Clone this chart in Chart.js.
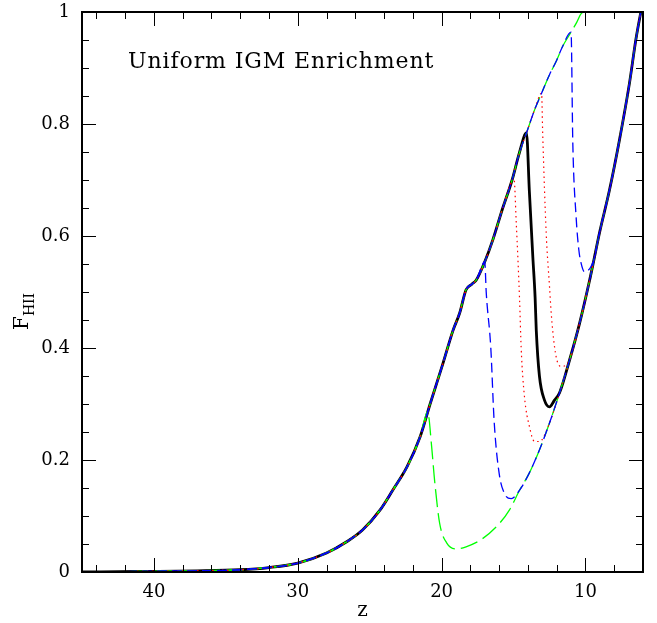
<!DOCTYPE html>
<html>
<head>
<meta charset="utf-8">
<script src="https://cdn.jsdelivr.net/npm/chart.js@4.4.0/dist/chart.umd.min.js"></script>
<style>
  html, body { margin: 0; padding: 0; background: #fff; }
  #wrap { width: 657px; height: 623px; position: relative; }
</style>
</head>
<body>
<div id="wrap"><canvas id="fhii-chart"></canvas></div>
<script>
// shared early branch (all runs follow it until enrichment kicks in)
const baseZ = [45, 41, 37, 34, 32, 30, 28, 26.6, 25.5, 24.3, 23.4, 22.4, 21.5, 20.8, 19.9, 19.2, 18.75, 18.3, 17.9, 17.6,
               17.0, 16.44, 15.8, 15.1, 14.6, 14.1, 13.54, 13.05, 12.5, 12.0, 11.6, 11.0, 10.6, 10.3, 10.0, 6.0];
const baseF = [0, 0.001, 0.002, 0.004, 0.008, 0.016, 0.034, 0.054, 0.075, 0.11, 0.146, 0.188, 0.241, 0.30, 0.373, 0.432, 0.462, 0.504, 0.514, 0.521,
               0.554, 0.593, 0.646, 0.70, 0.748, 0.784, 0.825, 0.855, 0.888, 0.914, 0.938, 0.964, 0.982, 0.997, 1.0, 1.0];

// shared late branch (after the drop everything merges here)
const lateZ = [18.96, 18.3, 17.13, 15.97, 15.28, 14.58, 13.9, 13.2, 12.5, 11.8, 11.1, 10.4, 9.72, 9.4, 9.03, 8.33, 7.64, 6.94, 6.5, 6.15];
const lateF = [0.041, 0.045, 0.060, 0.087, 0.111, 0.146, 0.177, 0.218, 0.266, 0.32, 0.379, 0.445, 0.52, 0.559, 0.605, 0.682, 0.771, 0.873, 0.95, 1.0];

// drops
const greenDropZ = [20.97, 20.69, 20.49, 20.14, 19.65];
const greenDropF = [0.286, 0.223, 0.164, 0.0875, 0.052];
const blueADropZ = [16.9, 16.58, 16.35, 16.0, 15.63, 15.16];
const blueADropF = [0.50, 0.40, 0.27, 0.176, 0.14, 0.131];
const redADropZ = [14.97, 14.81, 14.58, 14.47, 14.24, 13.89, 13.54, 13.19];
const redADropF = [0.703, 0.623, 0.486, 0.40, 0.313, 0.259, 0.233, 0.233];
const blackDropZ = [13.9, 13.66, 13.5, 13.42, 13.2, 12.85, 12.5, 12.15];
const blackDropF = [0.68, 0.563, 0.49, 0.432, 0.35, 0.307, 0.295, 0.307];
const redBDropZ = [12.97, 12.73, 12.5, 12.38, 12.15, 11.92, 11.65];
const redBDropF = [0.78, 0.605, 0.51, 0.462, 0.402, 0.373, 0.367];
const blueBDropZ = [10.88, 10.65, 10.46, 10.3, 10.07];
const blueBDropF = [0.766, 0.634, 0.575, 0.551, 0.536];

// axis ticks
const xTickLabels = [10, 20, 30, 40];
const xMinorTicks = [8, 12, 14, 16, 18, 22, 24, 26, 28, 32, 34, 36, 38, 42, 44];
const yTickLabels = [0, 0.2, 0.4, 0.6, 0.8, 1];
const yMinorTicks = [0.05, 0.1, 0.15, 0.25, 0.3, 0.35, 0.45, 0.5, 0.55, 0.65, 0.7, 0.75, 0.85, 0.9, 0.95];

const serif = 'DejaVu Serif';

function curve(breakZ, dropZ, dropF, joinZ) {
    let pts = [];
    baseZ.forEach((z, i) => { if (z >= breakZ) pts.push({x: z, y: baseF[i]}); });
    dropZ.forEach((z, i) => pts.push({x: z, y: dropF[i]}));
    lateZ.forEach((z, i) => { if (z <= joinZ) pts.push({x: z, y: lateF[i]}); });
    return pts;
}

function line(data, color, width, dash) {
    return {
        data: data,
        borderColor: color,
        borderWidth: width,
        borderDash: dash,
        pointRadius: 0,
        fill: false,
        cubicInterpolationMode: 'monotone'
    };
}

// first dataset ends up on top
let datasets = [
    line(curve(17.0, blueADropZ, blueADropF, 14.58), '#0000ff', 1.3, [10, 5]),
    line(curve(11.0, blueBDropZ, blueBDropF, 9.4), '#0000ff', 1.3, [10, 5]),
    line(curve(15.1, redADropZ, redADropF, 12.5), '#ff0000', 1.2, [1.5, 3.5]),
    line(curve(13.05, redBDropZ, redBDropF, 11.1), '#ff0000', 1.2, [1.5, 3.5]),
    line(curve(0, [], [], -1), '#00ff00', 1.3, [18, 6]),
    line(curve(21.5, greenDropZ, greenDropF, 18.96), '#00ff00', 1.3, [18, 6]),
    line(curve(14.1, blackDropZ, blackDropF, 11.8), '#000000', 2.8, [])
];

let framePlugin = {
    id: 'frame',
    afterDatasetsDraw(chart) {
        let ctx = chart.ctx;
        let a = chart.chartArea;
        let xs = chart.scales.x, ys = chart.scales.y;
        ctx.save();
        ctx.strokeStyle = '#000';
        ctx.lineWidth = 1;
        ctx.beginPath();
        xTickLabels.concat(xMinorTicks).forEach(v => {
            let len = xTickLabels.includes(v) ? 14 : 7;
            let px = Math.round(xs.getPixelForValue(v)) + 0.5;
            ctx.moveTo(px, a.bottom); ctx.lineTo(px, a.bottom - len);
            ctx.moveTo(px, a.top); ctx.lineTo(px, a.top + len);
        });
        yTickLabels.concat(yMinorTicks).forEach(v => {
            let len = yTickLabels.includes(v) ? 14 : 7;
            let py = Math.round(ys.getPixelForValue(v)) + 0.5;
            ctx.moveTo(a.left, py); ctx.lineTo(a.left + len, py);
            ctx.moveTo(a.right, py); ctx.lineTo(a.right - len, py);
        });
        ctx.stroke();
        ctx.lineWidth = 2;
        ctx.strokeRect(a.left, a.top, a.right - a.left, a.bottom - a.top);

        // label inside the plot
        ctx.fillStyle = '#000';
        ctx.font = '22px "' + serif + '"';
        ctx.letterSpacing = '0.9px';
        ctx.textAlign = 'left';
        ctx.textBaseline = 'alphabetic';
        ctx.fillText('Uniform IGM Enrichment', a.left + 46, a.top + 56);
        ctx.letterSpacing = '0px';

        // y title with subscript
        ctx.translate(28, (a.top + a.bottom) / 2 + 38);
        ctx.rotate(-Math.PI / 2);
        ctx.font = '20px "' + serif + '"';
        ctx.fillText('F', 0, 0);
        let w = ctx.measureText('F').width;
        ctx.font = '14px "' + serif + '"';
        ctx.fillText('HII', w, 6);
        ctx.restore();
    }
};

let chart = new Chart(document.getElementById('fhii-chart'), {
    type: 'line',
    data: { datasets: datasets },
    options: {
        responsive: true,
        maintainAspectRatio: false,
        animation: false,
        devicePixelRatio: 1,
        layout: { padding: { top: 12, right: 14, left: 0, bottom: 0 } },
        plugins: { legend: { display: false }, tooltip: { enabled: false } },
        scales: {
            x: {
                type: 'linear',
                reverse: true,
                min: 6,
                max: 45,
                afterBuildTicks: s => { s.ticks = xTickLabels.map(v => ({value: v})); },
                afterFit: s => { s.height = 51; s.paddingLeft = 0; s.paddingRight = 0; },
                grid: { display: false, drawTicks: false },
                border: { display: false },
                ticks: { color: '#000', padding: 10, maxRotation: 0, autoSkip: false,
                         font: { family: serif, size: 18 } },
                title: { display: true, text: 'z', color: '#000', padding: 0,
                         font: { family: serif, size: 20 } }
            },
            y: {
                min: 0,
                max: 1,
                afterBuildTicks: s => { s.ticks = yTickLabels.map(v => ({value: v})); },
                afterFit: s => { s.width = 82; s.paddingTop = 0; s.paddingBottom = 0; },
                grid: { display: false, drawTicks: false },
                border: { display: false },
                ticks: { color: '#000', padding: 12, autoSkip: false,
                         font: { family: serif, size: 18 },
                         callback: v => (v === 0 || v === 1) ? String(v) : v.toFixed(1) }
            }
        }
    },
    plugins: [framePlugin]
});
</script>
</body>
</html>
